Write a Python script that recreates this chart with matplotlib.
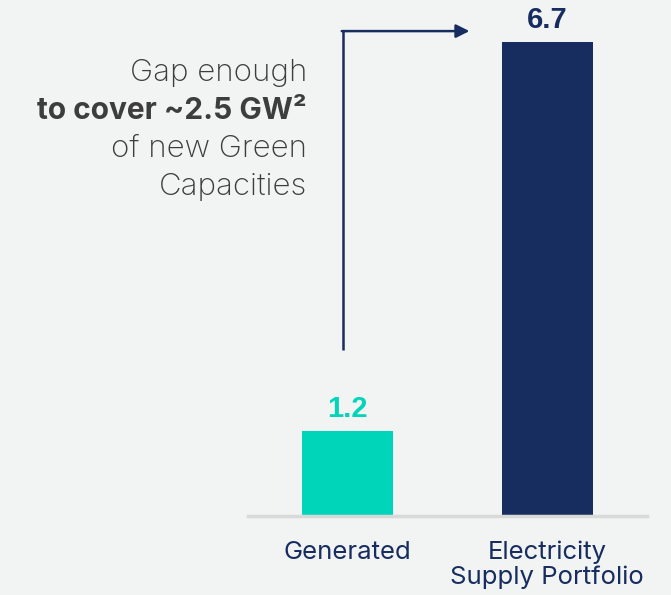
import matplotlib
matplotlib.use('Agg')
import matplotlib.pyplot as plt

categories = ['Generated', 'Electricity\nSupply Portfolio']
values = [1.2, 6.7]
value_labels = ['1.2', '6.7']
note_lines = ['Gap enough', 'to cover ~2.5 GW\u00b2', 'of new Green', 'Capacities']

bg = '#f2f4f3'
green = '#00d4b9'
navy = '#182d5f'
grey_txt = '#3d3d3d'

fig = plt.figure(figsize=(6.71, 5.95), dpi=100, facecolor=bg)
ax = fig.add_axes([248 / 671, 79 / 595, 399 / 671, 516 / 595])
ax.set_facecolor(bg)

x = [0, 1]
ax.bar(x, values, width=0.455, color=[green, navy], zorder=2)
ax.set_xlim(-0.5, 1.5)
ax.set_ylim(0, 7.3)

for s in ['top', 'right', 'left']:
    ax.spines[s].set_visible(False)
ax.spines['bottom'].set_color('#d8dada')
ax.spines['bottom'].set_linewidth(2.5)
ax.set_yticks([])
ax.set_xticks(x)
ax.set_xticklabels(categories, fontsize=18.5, color=navy, family='Inter',
                   linespacing=1.05)
ax.tick_params(axis='x', length=0, pad=18)

# value labels above bars
for xi, v, lab, c in zip(x, values, value_labels, [green, navy]):
    ax.text(xi, v + 0.12, lab, ha='center', va='bottom', fontsize=21,
            fontweight='bold', color=c, family='Liberation Sans')

# gap arrow
ax.plot([-0.022, -0.022], [2.35, 6.86], color=navy, lw=1.8,
        solid_capstyle='butt', zorder=3)
ax.annotate('', xy=(0.61, 6.86), xytext=(-0.03, 6.86),
            arrowprops=dict(arrowstyle='-|>', color=navy, lw=1.8,
                            mutation_scale=20, shrinkA=0, shrinkB=0),
            annotation_clip=False)

# side note
ys = [73, 111, 149, 187]
for i, (line, yy) in enumerate(zip(note_lines, ys)):
    fig.text(307 / 671, 1 - yy / 595, line, ha='right', va='center',
             fontsize=21.5 if i == 1 else 22.5, color=grey_txt, family='Inter',
             fontweight='bold' if i == 1 else 'light')

fig.savefig('out.png', dpi=100, facecolor=bg)
